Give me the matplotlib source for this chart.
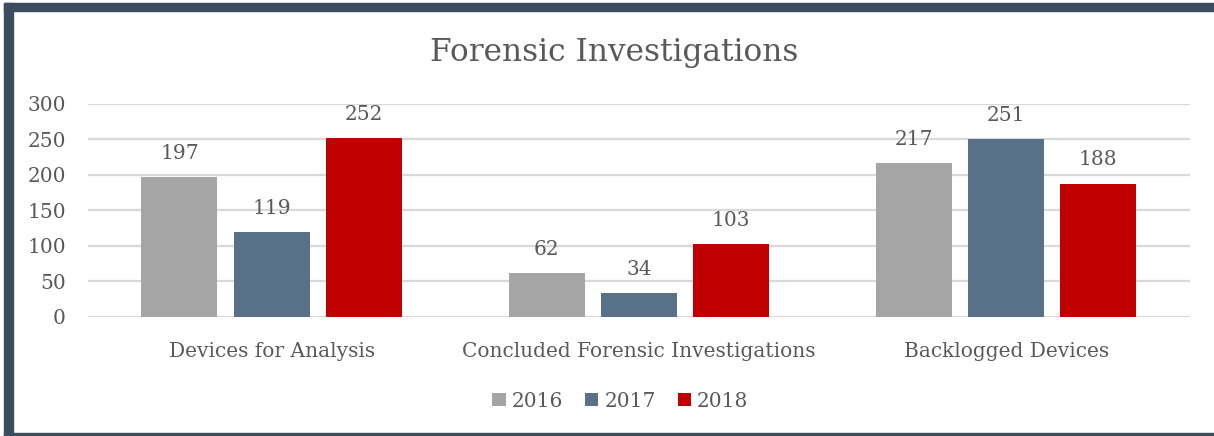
import numpy as np
import matplotlib.pyplot as plt
from matplotlib.patches import Rectangle

categories = ["Devices for Analysis", "Concluded Forensic Investigations", "Backlogged Devices"]
years = ["2016", "2017", "2018"]
v2016 = [197, 62, 217]
v2017 = [119, 34, 251]
v2018 = [252, 103, 188]

colors = ["#a5a5a5", "#587189", "#c00000"]
text_color = "#595959"
frame_color = "#3b4e5f"

plt.rcParams['font.family'] = ['DejaVu Serif']

fig = plt.figure(figsize=(12.14, 4.36), dpi=100)
ax = fig.add_axes([0.0725, 0.273, 0.9075, 0.4885])

x = np.arange(len(categories))
w = 0.207
step = 0.251
for i, (vals, c, lab) in enumerate(zip([v2016, v2017, v2018], colors, years)):
    bars = ax.bar(x + (i - 1) * step, vals, w, color=c, label=lab, zorder=3)
    for b, v in zip(bars, vals):
        ax.annotate(str(v), (b.get_x() + b.get_width() / 2, v), xytext=(0, 17),
                    textcoords="offset points", ha="center", va="center",
                    fontsize=14.5, color=text_color)

ax.set_xlim(-0.5, 2.5)
ax.set_ylim(0, 300)
ax.set_yticks(range(0, 301, 50))
ax.yaxis.grid(True, color="#d9d9d9", lw=1.6, zorder=0)
ax.set_axisbelow(True)
for s in ax.spines.values():
    s.set_visible(False)
ax.tick_params(axis="both", length=0, labelsize=14.5, colors=text_color)
ax.tick_params(axis="y", pad=16)
ax.tick_params(axis="x", pad=18)
ax.set_xticks(x)
ax.set_xticklabels(categories)

fig.text(0.506, 0.88, "Forensic Investigations", ha="center", va="center",
         fontsize=22.5, color=text_color)

leg = fig.legend(loc="center", bbox_to_anchor=(0.511, 0.08), ncol=3, frameon=False,
                 fontsize=14.5, handlelength=0.65, handleheight=0.65, handletextpad=0.3,
                 columnspacing=1.1, labelcolor=text_color)

# frame
fig.patches.append(Rectangle((4 / 1214, 0), 9 / 1214, 1 - 3 / 436, transform=fig.transFigure,
                             color=frame_color, zorder=0))
fig.patches.append(Rectangle((4 / 1214, 1 - 11 / 436), 1, 8 / 436, transform=fig.transFigure,
                             color=frame_color, zorder=0))
fig.patches.append(Rectangle((4 / 1214, 0), 1, 3 / 436, transform=fig.transFigure,
                             color=frame_color, zorder=0))

fig.savefig("out.png", dpi=100)
